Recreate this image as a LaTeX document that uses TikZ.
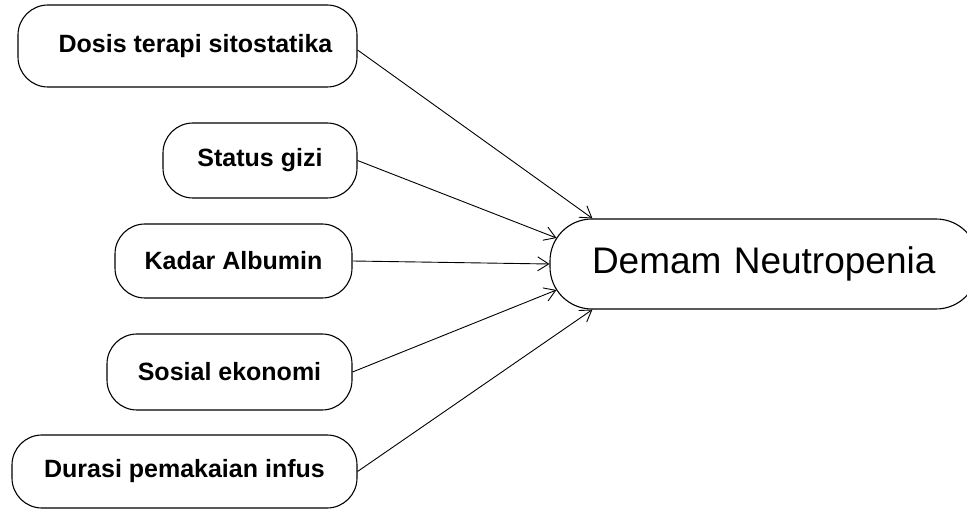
\documentclass[tikz,border=0pt]{standalone}
\usepackage{fontspec}
\setmainfont{Liberation Sans}
\usetikzlibrary{arrows.meta,calc}
\begin{document}
\begin{tikzpicture}[x=1pt,y=-1pt,
  cause/.style={draw, rounded corners=30pt, line width=1.1pt, inner sep=0pt,
    font=\bfseries\fontsize{25}{30}\selectfont},
  effect/.style={draw, rounded corners=42pt, line width=1.1pt, inner sep=0pt,
    font=\fontsize{37}{44}\selectfont},
  arr/.style={-{Straight Barb[length=11pt,width=14pt]}, line width=0.9pt}]
\useasboundingbox (0,0) rectangle (967,510);

\node[cause, minimum width=339pt, minimum height=82pt] (c1) at (187.5,46) {\hspace*{16pt}Dosis terapi sitostatika};
\node[cause, minimum width=194pt, minimum height=75pt] (c2) at (260,160.5) {Status gizi};
\node[cause, minimum width=237pt, minimum height=74pt] (c3) at (233.5,261) {Kadar Albumin};
\node[cause, minimum width=245pt, minimum height=76pt] (c4) at (229.5,372) {Sosial ekonomi};
\node[cause, minimum width=345pt, minimum height=73pt] (c5) at (184.5,471.5) {Durasi pemakaian infus};

\node[effect, minimum width=428pt, minimum height=90pt, text width=428pt, align=left] (dn) at (764,264) {\hspace*{42pt}Demam Neutropenia};

\draw[arr] ($(c1.east)+(0,4)$) -- ($(dn.north west)+(43,0)$);
\draw[arr] (c2.east) -- ($(dn.west)+(7,-26)$);
\draw[arr] (c3.east) -- (dn.west);
\draw[arr] (c4.east) -- ($(dn.west)+(7,26)$);
\draw[arr] (c5.east) -- ($(dn.south west)+(43,0)$);
\end{tikzpicture}
\end{document}
